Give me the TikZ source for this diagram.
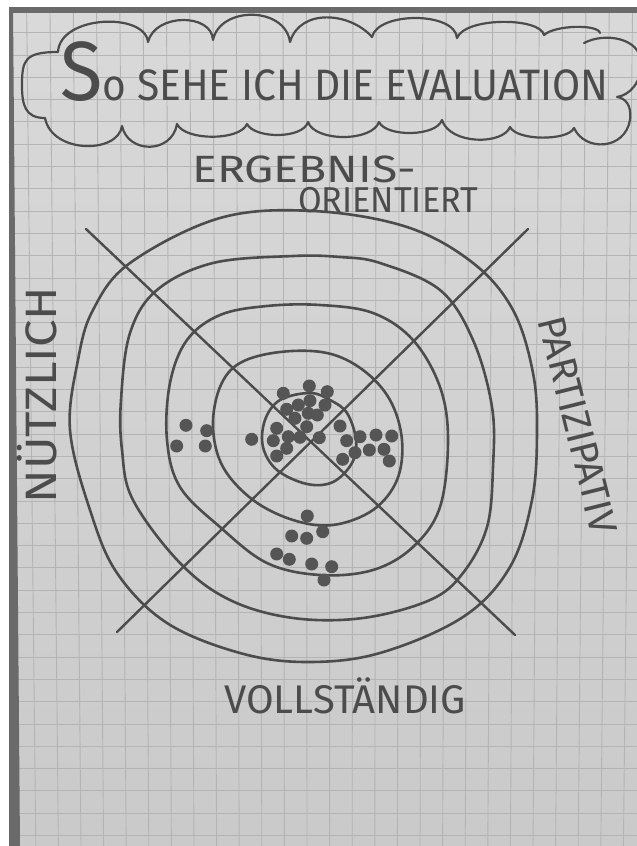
\documentclass[tikz,border=0pt]{standalone}
\usepackage{fontspec}
\setmainfont{Fira Sans}
\usepackage{graphicx}
\usepackage{tikz}
\usetikzlibrary{calc}

\definecolor{paper}{HTML}{D9D9D9}
\definecolor{paperlow}{HTML}{CACACA}
\definecolor{gridline}{HTML}{B4B4B4}
\definecolor{ink}{HTML}{4C4C4C}
\definecolor{edge}{HTML}{6A6A6A}

\begin{document}
\begin{tikzpicture}[x=1pt, y=-1pt,
  ring/.style={draw=ink, line width=2.6pt, line join=round},
  diag/.style={draw=ink, line width=2.4pt, line cap=round},
  cloudline/.style={draw=ink, line width=2.2pt, line join=round, line cap=round},
  dot/.style={fill=ink!95},
  hand/.style={text=ink, inner sep=0pt, font=\fontsize{#1}{#1}\selectfont}
]
\useasboundingbox (0,0) rectangle (637,846);
\clip (0,0) rectangle (637,846);

% Flipchart sheet and grid
\fill[white] (0,0) rectangle (637,846);
\shade[top color=paper, bottom color=paperlow] (9,7) rectangle (637,846);
\foreach \k in {0,...,26}
  \draw[gridline, line width=0.9pt] ({26.7+23.3*\k},13) -- ({35.8+22.6*\k},846);
\foreach \k in {0,...,36}
  \draw[gridline, line width=0.9pt] (10,{32.7+22.3*\k}) -- (637,{32.7+22.3*\k});
\fill[edge] (9,7) rectangle (637,13);
\fill[edge] (9,7) -- (13,7) -- (20,846) -- (9,846) -- cycle;

% Cloud round the title
\draw[cloudline] (584,43) .. controls (605,32) and (640,38) .. (641,62)
  .. controls (642,82) and (630,95) .. (617,97)
  .. controls (625,98) and (632,105) .. (630,120)
  .. controls (625,150) and (585,152) .. (574,128)
  .. controls (568,141) and (517,141) .. (510,127)
  .. controls (503,145) and (450,145) .. (442,120)
  .. controls (436,137) and (386,137) .. (379,122)
  .. controls (372,142) and (315,142) .. (308,122)
  .. controls (303,139) and (255,139) .. (247,124)
  .. controls (240,141) and (185,141) .. (177,124)
  .. controls (172,154) and (128,154) .. (122,126)
  .. controls (118,154) and (52,154) .. (45,118)
  .. controls (25,118) and (22,105) .. (22,85)
  .. controls (22,60) and (25,52) .. (58,52)
  .. controls (60,15) and (145,12) .. (148,42)
  .. controls (155,13) and (212,13) .. (213,40)
  .. controls (220,6) and (285,6) .. (290,42)
  .. controls (300,8) and (350,12) .. (372,37)
  .. controls (378,11.5) and (455,11.5) .. (457,38)
  .. controls (465,17) and (540,17) .. (544,35)
  .. controls (555,25) and (598,24) .. (600,33);

\node[hand=44, anchor=base west] (title) at (60,100)
  {\scalebox{0.925}[1]{{\fontsize{84}{84}\selectfont S}o SEHE ICH DIE EVALUATION}};

% Target rings, outside in
\draw[ring] plot[smooth cycle, tension=0.6] coordinates {(313,211) (407,227) (473,263) (513,310) (533,373)
  (537,433) (532,500) (510,567) (463,617) (380,653) (307,662) (240,653) (167,623) (117,573) (90,510)
  (70,430) (78,360) (93,310) (130,263) (220,218)};
\draw[ring] plot[smooth cycle, tension=0.6] coordinates {(293,256) (340,257) (380,263) (440,290) (473,340)
  (492,407) (493,467) (487,527) (463,573) (430,600) (363,618) (293,618) (230,600) (180,563) (133,500)
  (122,450) (121,400) (130,333) (157,290) (213,263)};
\draw[ring] plot[smooth cycle, tension=0.6] coordinates {(267,306) (320,305) (373,313) (413,340) (440,387)
  (448,440) (440,507) (413,547) (373,570) (320,575) (267,563) (220,527) (180,487) (167,440) (170,383)
  (187,340) (220,315)};
\draw[ring] plot[smooth cycle, tension=0.6] coordinates {(280,352) (327,353) (363,370) (390,400) (402,440)
  (397,480) (373,510) (333,525) (293,520) (253,500) (223,467) (213,427) (220,387) (240,363)};
\draw[ring] plot[smooth cycle, tension=0.6] coordinates {(310,393) (330,400) (347,413) (356,440) (352,463)
  (333,482) (307,484) (277,470) (263,447) (265,420) (280,400)};

% The cross
\coordinate (nw) at (86,229);
\coordinate (se) at (515,635);
\coordinate (ne) at (528,229);
\coordinate (sw) at (117,632);
\draw[diag] (nw) -- (se);
\draw[diag] (ne) -- (sw);

% Votes
\foreach \x/\y in {283.3/393.3, 309.3/386, 327.3/391.7, 286.7/409.3, 298.3/405, 310/400.7, 325/405,
  295/418.3, 308.3/413.3, 317.3/415, 276.7/428.3, 306.7/426.7, 340/426, 273.3/440.7, 288.3/436.7,
  300/437.3, 319.3/437.7, 346.7/440.7, 286.7/448.3, 276.7/456, 342.7/459.3, 251.7/439.3,
  360/436.7, 376/435, 391.7/436, 355/452.7, 369.3/450, 384/449.3, 389.3/461,
  186/425.3, 206.7/430.7, 176.7/446, 205.3/446,
  307.3/516, 291.7/536, 306.7/538.3, 322.7/531.7, 276.7/554, 289.3/559.3, 311.7/564, 331.7/566.7, 324/580}
  \fill[dot] (\x,\y) circle (6.5);

% Labels round the target
\node[hand=38, anchor=base west] (ergebnis) at (192,182) {\scalebox{1.22}[1]{ERGEBNIS-}};
\node[hand=36, anchor=base west] (orientiert) at (298,212) {\scalebox{0.95}[1]{ORIENTIERT}};
\node[hand=44, rotate=90] (nuetzlich) at (37,395) {\scalebox{1.12}[1]{NÜTZLICH}};
\node[hand=39, rotate=-76] (partizipativ) at (578,425) {PARTIZIPATIV};
\node[hand=40] (vollstaendig) at (345,696) {VOLLSTÄNDIG};

\end{tikzpicture}
\end{document}
